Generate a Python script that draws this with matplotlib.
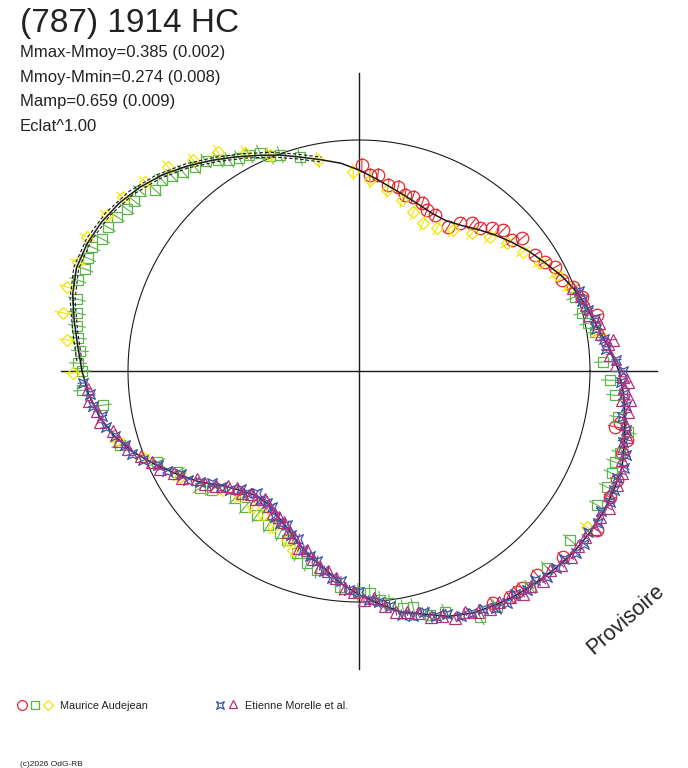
import numpy as np
import matplotlib
matplotlib.use("Agg")
import matplotlib.pyplot as plt
from matplotlib.path import Path

plt.rcParams['font.family'] = ['Liberation Sans', 'DejaVu Sans']

title = "(787) 1914 HC"
stats = ["Mmax-Mmoy=0.385 (0.002)", "Mmoy-Mmin=0.274 (0.008)",
         "Mamp=0.659 (0.009)", "Eclat^1.00"]
observers = ["Maurice Audejean", "Etienne Morelle et al."]

# fitted curve: angle (deg) and radius (1 = mean circle)
fit_ang = [-180, -175, -170, -165, -160, -155, -150, -145, -140, -135, -130, -125,
           -120, -115, -110, -105, -100, -95, -90, -85, -80, -75, -70, -65,
           -60, -55, -50, -45, -40, -35, -30, -25, -20, -15, -10, -5,
           0, 5, 10, 15, 20, 25, 30, 35, 40, 45, 50, 55,
           60, 65, 70, 75, 80, 85, 90, 95, 100, 105, 110, 115,
           120, 125, 130, 135, 140, 145, 150, 155, 160, 165, 170, 175, 180]
fit_r = [1.199, 1.175, 1.141, 1.095, 1.035, 0.966, 0.900, 0.839, 0.771, 0.730, 0.702, 0.697,
         0.717, 0.744, 0.785, 0.827, 0.867, 0.922, 0.968, 1.012, 1.060, 1.090, 1.130, 1.157,
         1.172, 1.185, 1.195, 1.206, 1.216, 1.220, 1.221, 1.218, 1.212, 1.190, 1.169, 1.150,
         1.125, 1.090, 1.052, 1.028, 1.002, 0.970, 0.933, 0.901, 0.866, 0.833, 0.800, 0.770,
         0.752, 0.752, 0.765, 0.783, 0.806, 0.836, 0.870, 0.903, 0.928, 0.958, 0.995, 1.030,
         1.070, 1.113, 1.158, 1.202, 1.238, 1.267, 1.288, 1.300, 1.302, 1.283, 1.252, 1.222, 1.199]

# secondary fits (dashed), left part only
dash_ang = [178, 172, 166, 160, 154, 148, 142, 136, 130, 124, 118, 112, 106, 100]
dash_r_out = [1.222, 1.252, 1.289, 1.314, 1.311, 1.293, 1.263, 1.221, 1.170, 1.116, 1.066, 1.021, 0.977, 0.940]
dash_r_in = [1.200, 1.230, 1.267, 1.292, 1.289, 1.271, 1.241, 1.199, 1.148, 1.094, 1.044, 0.999, 0.955, 0.918]

# Maurice Audejean, session 1 (circles)
red_ang = [89.2, 86.8, 84.5, 81.1, 78, 75.4, 72.8, 69.4, 67.1, 64, 58.3, 55.7, 52.6, 49.8,
           47.1, 44.4, 40.6, 39.2, 33.4, 30.4, 27.9, 24.1, 21.4, 18.4, 13.2, -11.3, -12.3,
           -14.4, -17.3, -22.9, -26.7, -33.7, -42.4, -48.9, -53.1, -54.4, -56.3, -60]
red_r = [0.892, 0.850, 0.852, 0.815, 0.814, 0.787, 0.789, 0.777, 0.757, 0.751, 0.733, 0.776,
         0.806, 0.811, 0.845, 0.873, 0.872, 0.911, 0.912, 0.933, 0.961, 0.963, 0.995, 1.017,
         1.058, 1.152, 1.134, 1.198, 1.193, 1.212, 1.216, 1.239, 1.195, 1.172, 1.175, 1.176,
         1.177, 1.160]

# Maurice Audejean, session 2 (squares)
green_ang = [180, 178.4, 175.9, 173.3, 170.9, 168.4, 165.7, 162.1, 159.6, 157.4, 155.1, 152.8,
             150.2, 147.5, 145.1, 142.9, 140.6, 138.4, 135.9, 133.8, 131.5, 128.8, 126.1, 123.7,
             121.6, 119.4, 117, 114.4, 112.5, 110, 105.4,
             -176, -172.4, -162.8, -155.7, -151, -143.7, -141, -134.3, -130, -125.3, -120.6,
             -116, -113, -108.8, -105.2, -101.9, -95, -90.3, -87.2, -84.8, -82.4,
             -79.5, -77.1, -73.8, -70.4, -63.8, -59.7, -51.6, -46.3, -38.7, -29.4, -25.1, -22,
             -19.6, -17.4, -12.8, -10.1, -5.4, -2.1, 2.1, 9.4, 11.8, 14.6, 18.9]
green_r = [1.199, 1.217, 1.211, 1.225, 1.236, 1.246, 1.260, 1.279, 1.266, 1.271, 1.274, 1.251,
           1.253, 1.242, 1.225, 1.221, 1.227, 1.181, 1.188, 1.169, 1.150, 1.133, 1.125, 1.098,
           1.073, 1.058, 1.049, 1.036, 1.007, 0.996, 0.961,
           1.202, 1.118, 1.083, 0.959, 0.901, 0.855, 0.819, 0.768, 0.768, 0.764, 0.774,
           0.780, 0.795, 0.832, 0.861, 0.880, 0.939, 0.957, 0.962, 0.995, 1.013,
           1.044, 1.048, 1.100, 1.108, 1.187, 1.184, 1.192, 1.179, 1.170, 1.182, 1.185, 1.181,
           1.176, 1.184, 1.194, 1.139, 1.113, 1.087, 1.057, 1.035, 1.013, 0.998, 0.988]

# Maurice Audejean, session 3 (diamonds)
yellow_ang = [180.4, 173.9, 168.9, 163.95, 158.8, 153.8, 148.2, 143.6, 138.5, 133.1, 128.2, 122.8,
              117.6, 112.4, 101, 91.7, 86.7, 81.2, 75.9, 71.2, 66.6, 61.4, 56.3, 50.7, 45.6,
              40.9, 36, 30.8, 25.9, 21.5, 8.5, -34.4,
              -164, -158.3, -149.4, -138.8, -133.4, -127.9, -123.7, -118.9, -113.1, -110.2]
yellow_r = [1.238, 1.271, 1.306, 1.315, 1.305, 1.312, 1.283, 1.269, 1.236, 1.210, 1.162, 1.128,
            1.065, 1.011, 0.930, 0.862, 0.828, 0.793, 0.763, 0.727, 0.698, 0.705, 0.734, 0.772, 0.810,
            0.847, 0.877, 0.912, 0.952, 0.981, 1.050, 1.196,
            1.089, 1.006, 0.900, 0.782, 0.750, 0.746, 0.749, 0.771, 0.795, 0.826]

# Etienne Morelle et al., set 1 (stars)
blue_ang = [-177.5, -175, -172.5, -170, -167.5, -165, -162.5, -160, -157.5, -155, -152.5, -150,
            -147.5, -145, -142.5, -140, -137.5, -135, -132.5, -130, -127.5, -125, -122.5, -120,
            -117.5, -115, -112.5, -110, -107.5, -105, -102.5, -100, -97.5, -95, -92.5, -90,
            -87.5, -85, -82.5, -80, -77.5, -75, -72.5, -70, -67.5, -65, -62.5, -60,
            -57.5, -55, -52.5, -50, -47.5, -45, -42.5, -40, -37.5, -35, -32.5, -30,
            -27.5, -25, -22.5, -20, -17.5, -15, -12.5, -10, -7.5, -5, -2.5, 0,
            2.5, 5, 7.5, 10, 12.5, 15, 17.5, 20]
blue_r = [1.197, 1.167, 1.162, 1.129, 1.124, 1.095, 1.060, 1.046, 1.010, 0.958, 0.937, 0.888,
          0.876, 0.839, 0.800, 0.782, 0.760, 0.722, 0.718, 0.690, 0.704, 0.697, 0.700, 0.728,
          0.740, 0.736, 0.768, 0.773, 0.812, 0.827, 0.842, 0.878, 0.905, 0.914, 0.949, 0.956,
          0.993, 1.005, 1.028, 1.071, 1.085, 1.082, 1.114, 1.118, 1.150, 1.157, 1.160, 1.183,
          1.189, 1.177, 1.194, 1.183, 1.207, 1.206, 1.206, 1.227, 1.228, 1.212, 1.225, 1.209,
          1.226, 1.218, 1.210, 1.223, 1.211, 1.182, 1.184, 1.157, 1.166, 1.150, 1.135, 1.141,
          1.115, 1.074, 1.071, 1.040, 1.046, 1.028, 1.010, 1.013]

# Etienne Morelle et al., set 2 (triangles)
mag_ang = [-176.25, -173.75, -171.25, -168.75, -166.25, -163.75, -161.25, -158.75, -156.25, -153.75,
           -151.25, -148.75, -146.25, -143.75, -141.25, -138.75, -136.25, -133.75, -131.25, -128.75,
           -126.25, -123.75, -121.25, -118.75, -116.25, -113.75, -111.25, -108.75, -106.25, -103.75,
           -101.25, -98.75, -96.25, -93.75, -91.25, -88.75, -86.25, -83.75, -81.25, -78.75,
           -76.25, -73.75, -71.25, -68.75, -66.25, -63.75, -61.25, -58.75, -56.25, -53.75,
           -51.25, -48.75, -46.25, -43.75, -41.25, -38.75, -36.25, -33.75, -31.25, -28.75,
           -26.25, -23.75, -21.25, -18.75, -16.25, -13.75, -11.25, -8.75, -6.25, -3.75,
           -1.25, 1.25, 3.75, 6.25, 8.75, 11.25, 13.75, 16.25, 18.75, 21.25, 7.0, -2.3, -6.1]
mag_r = [1.175, 1.176, 1.148, 1.142, 1.097, 1.083, 1.057, 1.014, 0.977, 0.959,
         0.915, 0.897, 0.845, 0.825, 0.795, 0.757, 0.734, 0.731, 0.706, 0.712,
         0.688, 0.704, 0.718, 0.720, 0.731, 0.763, 0.773, 0.808, 0.807, 0.840,
         0.864, 0.877, 0.903, 0.943, 0.955, 0.990, 0.986, 1.022, 1.054, 1.064,
         1.077, 1.109, 1.118, 1.149, 1.141, 1.164, 1.176, 1.172, 1.176, 1.197,
         1.191, 1.210, 1.194, 1.212, 1.221, 1.213, 1.213, 1.230, 1.219, 1.233,
         1.209, 1.220, 1.221, 1.203, 1.190, 1.194, 1.173, 1.177, 1.145, 1.148,
         1.142, 1.114, 1.088, 1.084, 1.058, 1.058, 1.024, 1.025, 1.016, 0.992, 1.108, 1.165, 1.180]

# uncertainties per set (radial)
red_err, green_err, yellow_err, blue_err, mag_err = 0.028, 0.036, 0.034, 0.02, 0.015

W, H = 688, 768
CX, CY, SCALE = 359, 371, 231.0
AXIS_LEN = 1.29

RED = '#e5262e'
GREEN = '#5bb548'
YELLOW = '#f2e500'
BLUE = '#3a55a4'
MAGENTA = '#b3307f'

star = Path([(1, 1), (0, 0.5), (-1, 1), (-0.5, 0), (-1, -1), (0, -0.5), (1, -1), (0.5, 0), (1, 1)],
            [Path.MOVETO] + [Path.LINETO] * 7 + [Path.CLOSEPOLY])


def xy(ang, r):
    a = np.deg2rad(np.asarray(ang, dtype=float))
    r = np.asarray(r, dtype=float)
    return r * np.cos(a), r * np.sin(a)


def draw_set(ax, ang, r, err, color, marker, ms, z):
    x0, y0 = xy(ang, np.asarray(r) - err)
    x1, y1 = xy(ang, np.asarray(r) + err)
    ex = np.column_stack([x0, x1, np.full(len(x0), np.nan)]).ravel()
    ey = np.column_stack([y0, y1, np.full(len(y0), np.nan)]).ravel()
    ax.plot(ex, ey, color=color, lw=0.8, zorder=z)
    x, y = xy(ang, r)
    ax.plot(x, y, ls='none', marker=marker, ms=ms, mfc='none', mec=color, mew=0.9, zorder=z)


fig = plt.figure(figsize=(W / 100, H / 100), dpi=100)
ax = fig.add_axes([0, 0, 1, 1])
ax.set_xlim(-CX / SCALE, (W - CX) / SCALE)
ax.set_ylim(-(H - CY) / SCALE, CY / SCALE)
ax.axis('off')

# axes cross and mean circle
ax.plot([-AXIS_LEN, AXIS_LEN], [0, 0], color='#1a1a1a', lw=1.0, zorder=1)
ax.plot([0, 0], [-AXIS_LEN, AXIS_LEN], color='#1a1a1a', lw=1.0, zorder=1)
t = np.linspace(0, 2 * np.pi, 400)
ax.plot(np.cos(t), np.sin(t), color='#1a1a1a', lw=0.8, zorder=1)

draw_set(ax, red_ang, red_r, red_err, RED, 'o', 9, 2)
draw_set(ax, green_ang, green_r, green_err, GREEN, 's', 7.5, 2)
draw_set(ax, yellow_ang, yellow_r, yellow_err, YELLOW, 'D', 6.5, 2)

fx, fy = xy(fit_ang, fit_r)
ax.plot(fx, fy, color='#1a1a1a', lw=1.1, zorder=3)
dx, dy = xy(dash_ang, dash_r_out)
ax.plot(dx, dy, color='#1a1a1a', lw=0.8, ls=(0, (3, 2)), zorder=3)
dx, dy = xy(dash_ang, dash_r_in)
ax.plot(dx, dy, color='#1a1a1a', lw=0.8, ls=(0, (3, 2)), zorder=3)

draw_set(ax, blue_ang, blue_r, blue_err, BLUE, star, 7, 4)
draw_set(ax, mag_ang, mag_r, mag_err, MAGENTA, '^', 8, 5)


# texts (pixel positions)
def fx_(x):
    return x / W


def fy_(y):
    return 1 - y / H


fig.text(fx_(20), fy_(32), title, fontsize=24, color='#222222', va='baseline')
for i, s in enumerate(stats):
    fig.text(fx_(20), fy_(57 + 24.6 * i), s, fontsize=12, color='#222222', va='baseline')

fig.text(fx_(593), fy_(655), "Provisoire", fontsize=15.5, color='#222222', rotation=41,
         rotation_mode='anchor', ha='left', va='baseline')

# legend
leg = fig.add_axes([0, 0, 1, 1], facecolor='none')
leg.set_xlim(0, W)
leg.set_ylim(H, 0)
leg.axis('off')
leg.plot([22], [705], 'o', ms=7, mfc='none', mec=RED, mew=0.9)
leg.plot([35], [705], 's', ms=5.5, mfc='none', mec=GREEN, mew=0.9)
leg.plot([48], [705], 'D', ms=5, mfc='none', mec=YELLOW, mew=0.9)
leg.text(60, 709, observers[0], fontsize=7.8, color='#222222', va='baseline')
leg.plot([220], [704.5], marker=star, ms=5.5, mfc='none', mec=BLUE, mew=0.9)
leg.plot([233], [704], '^', ms=6, mfc='none', mec=MAGENTA, mew=0.9)
leg.text(245, 709, observers[1], fontsize=7.8, color='#222222', va='baseline')
leg.text(20, 766, "(c)2026 OdG-RB", fontsize=6, color='#222222', va='baseline')

fig.savefig("out.png", dpi=100)
